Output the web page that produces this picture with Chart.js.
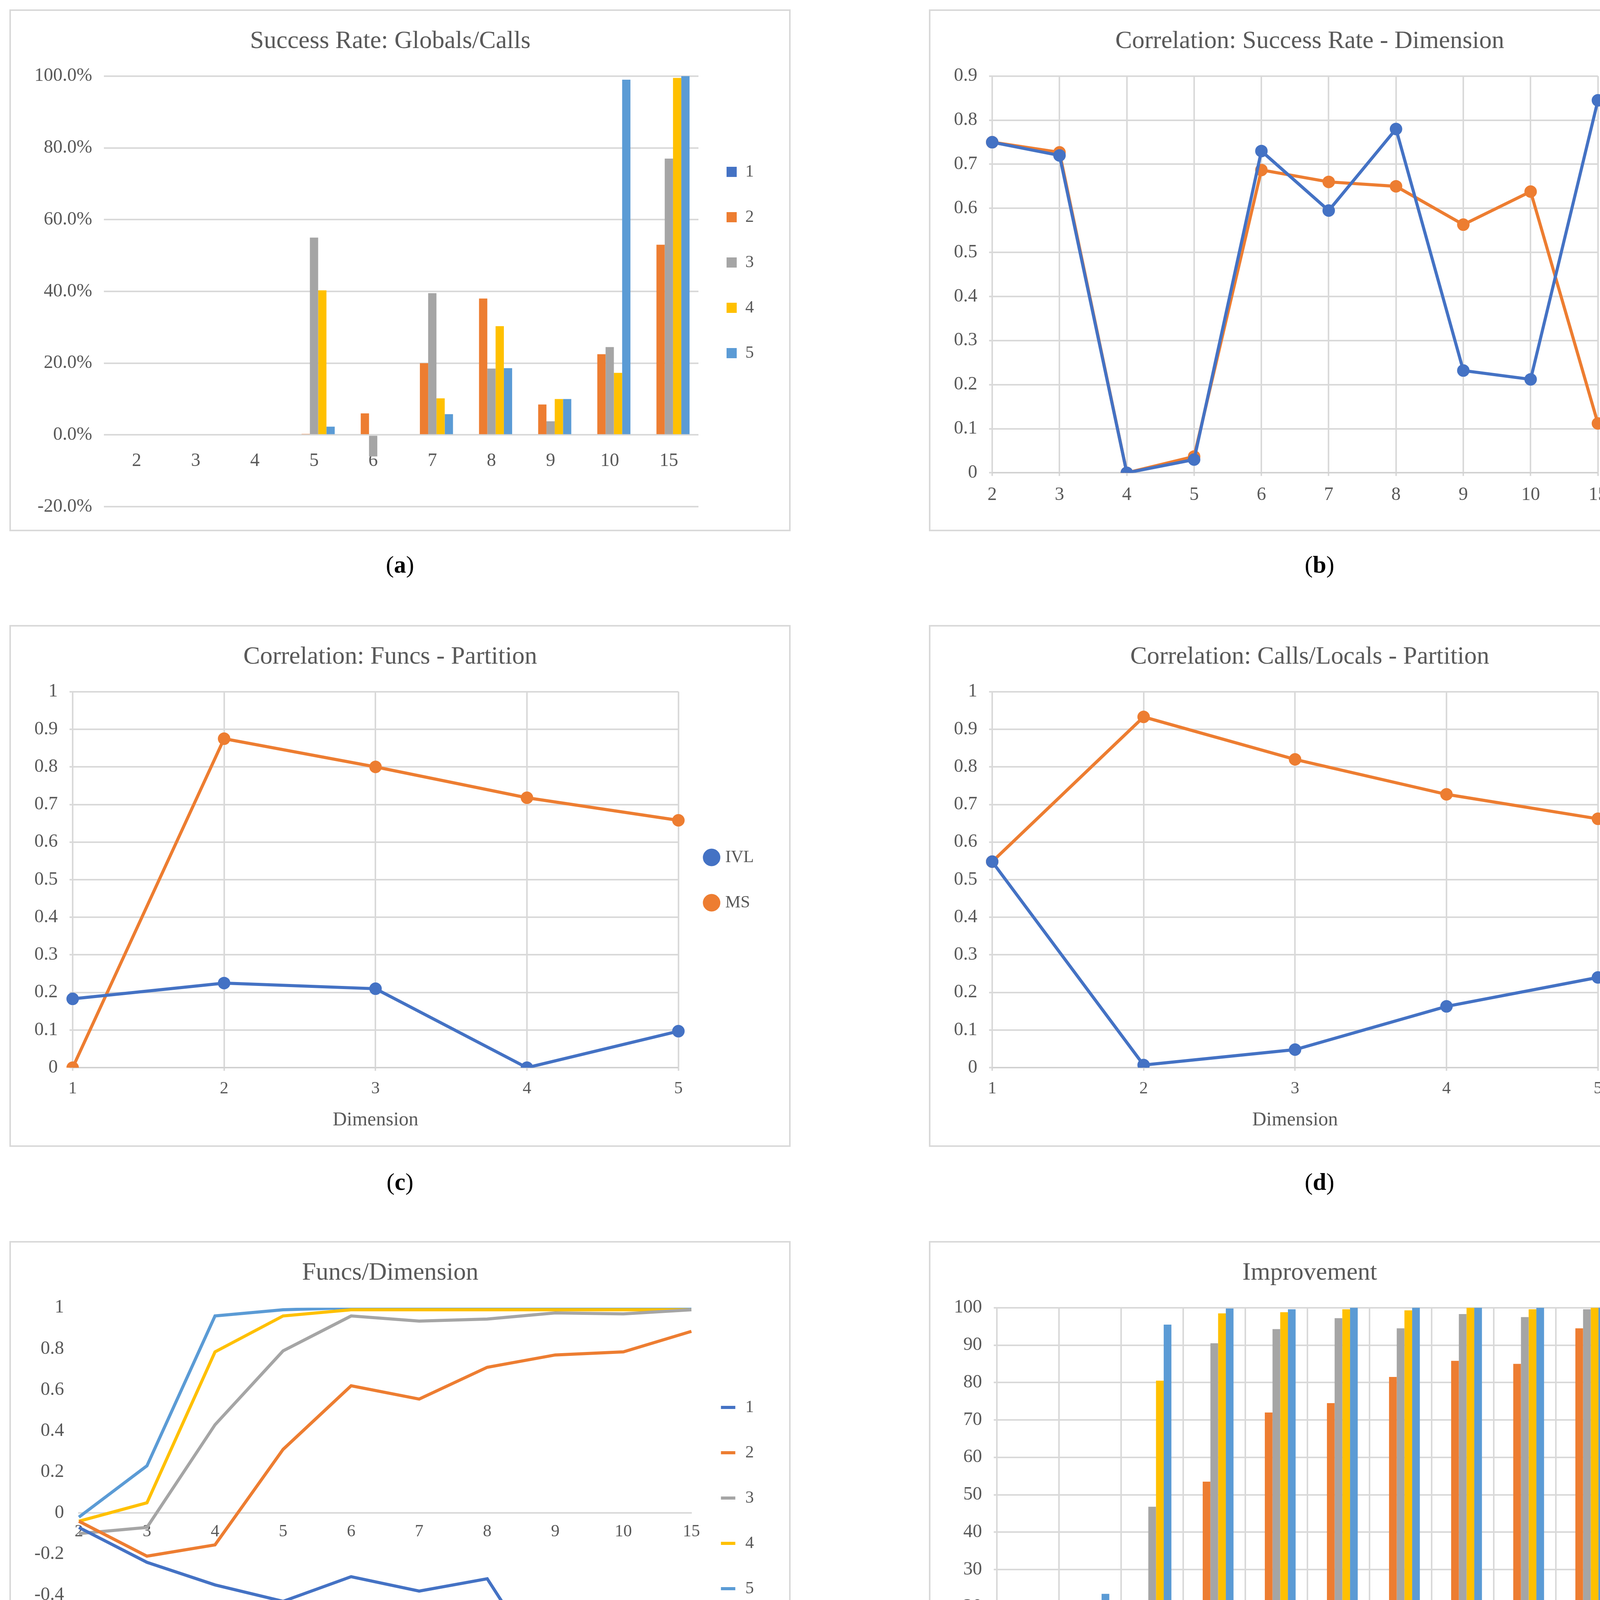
<!DOCTYPE html>
<html>
<head>
<meta charset="utf-8">
<script src="https://cdn.jsdelivr.net/npm/chart.js@4.4.0/dist/chart.umd.min.js"></script>
<style>
  body { margin: 0; background: #fff; width: 4405px; height: 4657px; position: relative; font-family: 'Liberation Serif', serif; }
  .panel { position: absolute; width: 2000px; height: 1336px; border: 4px solid #d9d9d9; box-sizing: border-box; background: #fff; }
  .cap { position: absolute; width: 2000px; text-align: center; font-size: 62px; color: #000; }
</style>
</head>
<body>
<div class="panel" style="left:24px;top:24px"><canvas id="ca"></canvas></div>
<div class="panel" style="left:2378px;top:24px"><canvas id="cb"></canvas></div>
<div class="panel" style="left:24px;top:1600px"><canvas id="cc"></canvas></div>
<div class="panel" style="left:2378px;top:1600px"><canvas id="cd"></canvas></div>
<div class="panel" style="left:24px;top:3177px"><canvas id="ce"></canvas></div>
<div class="panel" style="left:2378px;top:3177px"><canvas id="cf"></canvas></div>
<div class="cap" style="left:24px;top:1410px">(<b>a</b>)</div>
<div class="cap" style="left:2378px;top:1410px">(<b>b</b>)</div>
<div class="cap" style="left:24px;top:2990px">(<b>c</b>)</div>
<div class="cap" style="left:2378px;top:2990px">(<b>d</b>)</div>
<div class="cap" style="left:24px;top:4570px">(<b>e</b>)</div>
<div class="cap" style="left:2378px;top:4570px">(<b>f</b>)</div>
<script>
const partitions = ['2', '3', '4', '5', '6', '7', '8', '9', '10', '15'];
const dims = ['1', '2', '3', '4', '5'];

// (a) Success Rate: Globals/Calls (percent)
const succ1 = [0, 0, 0, 0, 0, 0, 0, 0, 0, 0];
const succ2 = [0, 0, 0, 0.3, 6, 20, 38, 8.5, 22.5, 53];
const succ3 = [0, 0, 0, 55, -6, 39.5, 18.5, 3.8, 24.5, 77];
const succ4 = [0, 0, 0, 40.3, 0, 10.2, 30.3, 10, 17.3, 99.5];
const succ5 = [0, 0, 0, 2.3, 0, 5.8, 18.6, 10, 99, 100];

// (b) Correlation: Success Rate - Dimension
const corrDimIVL = [0.75, 0.72, 0, 0.03, 0.73, 0.595, 0.78, 0.232, 0.212, 0.845];
const corrDimMS = [0.75, 0.727, 0, 0.037, 0.687, 0.66, 0.65, 0.563, 0.638, 0.112];

// (c) Correlation: Funcs - Partition
const funcsIVL = [0.183, 0.225, 0.21, 0, 0.097];
const funcsMS = [0, 0.875, 0.8, 0.718, 0.658];

// (d) Correlation: Calls/Locals - Partition
const callsIVL = [0.548, 0.007, 0.048, 0.163, 0.24];
const callsMS = [0.548, 0.933, 0.82, 0.727, 0.662];

// (e) Funcs/Dimension
const fd1 = [-0.07, -0.24, -0.35, -0.43, -0.31, -0.38, -0.32, -0.835, -0.45, -0.62];
const fd2 = [-0.04, -0.21, -0.155, 0.31, 0.62, 0.555, 0.71, 0.77, 0.785, 0.885];
const fd3 = [-0.1, -0.07, 0.43, 0.79, 0.96, 0.935, 0.945, 0.975, 0.97, 0.99];
const fd4 = [-0.04, 0.05, 0.785, 0.96, 0.99, 0.99, 0.99, 0.99, 0.99, 0.99];
const fd5 = [-0.02, 0.23, 0.96, 0.99, 1, 1, 1, 1, 1, 1];

// (f) Improvement
const imp1 = [0, 0, 0, 0, 0, 0, 0, 0, 0, 8.5];
const imp2 = [0, 0, 0, 53.5, 72, 74.5, 81.5, 85.8, 85, 94.5];
const imp3 = [0, 0, 46.8, 90.5, 94.3, 97.2, 94.5, 98.3, 97.5, 99.6];
const imp4 = [0, 7, 80.5, 98.5, 98.8, 99.6, 99.3, 100, 99.6, 100];
const imp5 = [0, 23.5, 95.5, 99.8, 99.6, 100, 100, 100, 100, 100];

const COLORS = ['#4472C4', '#ED7D31', '#A5A5A5', '#FFC000', '#5B9BD5'];
const TEXT = '#595959';
const GRID = '#d9d9d9';
const FONT = 'Liberation Serif';

Chart.defaults.font.family = FONT;
Chart.defaults.color = TEXT;
Chart.defaults.animation = false;
Chart.defaults.responsive = true;
Chart.defaults.maintainAspectRatio = false;

const titleOpt = (text) => ({ display: true, text, color: TEXT, font: { size: 64, weight: 'normal' }, padding: { top: 40, bottom: 50 } });
const legendOpt = (style) => ({
    position: 'right',
    labels: {
        color: TEXT, font: { size: 44 }, boxWidth: style === 'line' ? 70 : 26, boxHeight: 26, padding: 72,
        usePointStyle: !!style, pointStyle: style || undefined
    }
});
const tickFont = { size: 48 };

const barSets = (arrs, pct) => arrs.map((d, i) => ({
    label: String(i + 1), data: d, backgroundColor: COLORS[i], barPercentage: 1, categoryPercentage: pct
}));
const lineSets = (arrs, labels, points) => arrs.map((d, i) => ({
    label: labels[i], data: d, borderColor: COLORS[i], backgroundColor: COLORS[i],
    borderWidth: 8, pointRadius: points ? 12 : 0, pointStyle: points ? 'circle' : false, tension: 0
}));

// (a)
new Chart(document.getElementById('ca'), {
    type: 'bar',
    data: { labels: partitions, datasets: barSets([succ1, succ2, succ3, succ4, succ5], 0.7) },
    options: {
        layout: { padding: { left: 30, right: 80, bottom: 40 } },
        plugins: { title: titleOpt('Success Rate: Globals/Calls'), legend: legendOpt(null) },
        scales: {
            x: { position: { y: 0 }, grid: { display: false }, border: { display: false }, ticks: { font: tickFont, padding: 30 } },
            y: { min: -20, max: 100, grid: { color: GRID, lineWidth: 4 }, border: { display: false },
                 ticks: { stepSize: 20, font: tickFont, padding: 30, callback: v => v.toFixed(1) + '%' } }
        }
    }
});

// (b)
new Chart(document.getElementById('cb'), {
    type: 'line',
    data: { labels: partitions, datasets: lineSets([corrDimIVL, corrDimMS], ['IVL', 'MS'], true) },
    options: {
        layout: { padding: { left: 30, right: 80, bottom: 40 } },
        plugins: { title: titleOpt('Correlation: Success Rate - Dimension'), legend: legendOpt('circle') },
        scales: {
            x: { grid: { color: GRID, lineWidth: 4 }, ticks: { font: tickFont, padding: 20 } },
            y: { min: 0, max: 0.9, grid: { color: GRID, lineWidth: 4 }, border: { display: false },
                 ticks: { stepSize: 0.1, font: tickFont, padding: 30, callback: v => +v.toFixed(1) } }
        }
    }
});

const corrOpts = (title) => ({
    layout: { padding: { left: 30, right: 80, bottom: 30 } },
    plugins: { title: titleOpt(title), legend: legendOpt('circle') },
    scales: {
        x: { offset: false, grid: { color: GRID, lineWidth: 4 }, ticks: { font: { size: 44 }, padding: 20 },
             title: { display: true, text: 'Dimension', color: TEXT, font: { size: 50 } } },
        y: { min: 0, max: 1, grid: { color: GRID, lineWidth: 4 }, border: { display: false },
             ticks: { stepSize: 0.1, font: tickFont, padding: 30, callback: v => +v.toFixed(1) } }
    }
});

// (c)
new Chart(document.getElementById('cc'), {
    type: 'line',
    data: { labels: dims, datasets: lineSets([funcsIVL, funcsMS], ['IVL', 'MS'], true) },
    options: corrOpts('Correlation: Funcs - Partition')
});

// (d)
new Chart(document.getElementById('cd'), {
    type: 'line',
    data: { labels: dims, datasets: lineSets([callsIVL, callsMS], ['IVL', 'MS'], true) },
    options: corrOpts('Correlation: Calls/Locals - Partition')
});

// (e)
new Chart(document.getElementById('ce'), {
    type: 'line',
    data: { labels: partitions, datasets: lineSets([fd1, fd2, fd3, fd4, fd5], ['1', '2', '3', '4', '5'], false) },
    options: {
        layout: { padding: { left: 30, right: 80, bottom: 20 } },
        plugins: {
            title: titleOpt('Funcs/Dimension'),
            subtitle: { display: true, position: 'bottom', text: 'Partition', color: TEXT, font: { size: 50 }, padding: { top: 20, bottom: 10 } },
            legend: legendOpt('line')
        },
        scales: {
            x: { offset: false, position: { y: 0 }, grid: { display: false }, border: { color: GRID, width: 4 }, ticks: { font: { size: 44 }, padding: 14 } },
            y: { min: -1, max: 1, grid: { display: false }, border: { display: false },
                 ticks: { stepSize: 0.2, font: tickFont, padding: 30, callback: v => +v.toFixed(1) } }
        }
    }
});

// (f)
new Chart(document.getElementById('cf'), {
    type: 'bar',
    data: { labels: partitions, datasets: barSets([imp1, imp2, imp3, imp4, imp5], 0.62) },
    options: {
        layout: { padding: { left: 30, right: 80, bottom: 30 } },
        plugins: { title: titleOpt('Improvement'), legend: legendOpt(null) },
        scales: {
            x: { grid: { color: GRID, lineWidth: 4 }, ticks: { font: tickFont, padding: 20 },
                 title: { display: true, text: 'Partition', color: TEXT, font: { size: 50 } } },
            y: { min: 0, max: 100, grid: { color: GRID, lineWidth: 4 }, border: { display: false },
                 ticks: { stepSize: 10, font: tickFont, padding: 30 } }
        }
    }
});
</script>
</body>
</html>
